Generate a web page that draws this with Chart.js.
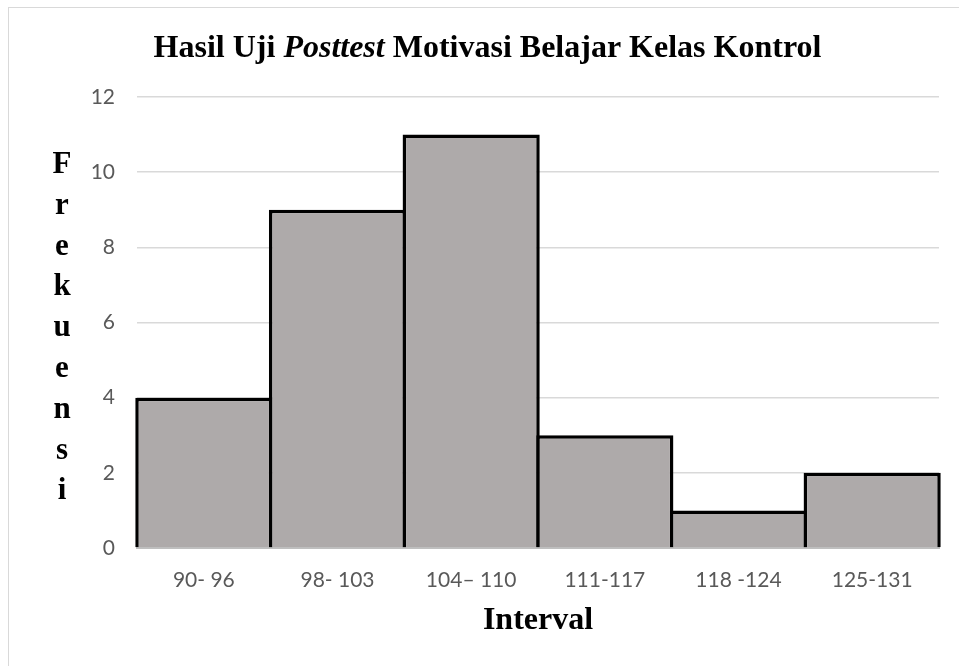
<!DOCTYPE html>
<html>
<head>
<meta charset="utf-8">
<script src="https://cdn.jsdelivr.net/npm/chart.js@4.4.1/dist/chart.umd.min.js"></script>
<style>
  html, body { margin: 0; padding: 0; background: #fff; }
  #wrap { position: relative; width: 959px; height: 666px; overflow: hidden; }
  #frame { position: absolute; left: 8px; top: 7px; width: 980px; height: 700px; border: 1.5px solid #d9d9d9; box-sizing: border-box; }
  canvas { position: absolute; left: 0; top: 0; }
</style>
</head>
<body>
<div id="wrap">
  <div id="frame"></div>
  <canvas id="chart" width="959" height="666"></canvas>
</div>
<script>
const intervals = ["90- 96", "98- 103", "104\u2013 110", "111-117", "118 -124", "125-131"]
const frekuensi = [4, 9, 11, 3, 1, 2]
const yTicks = [0, 2, 4, 6, 8, 10, 12]
const titleParts = [
  { text: "Hasil Uji ", italic: false },
  { text: "Posttest", italic: true },
  { text: " Motivasi Belajar Kelas Kontrol", italic: false }
]
const yTitle = "Frekuensi"
const xTitle = "Interval"

const serif = '"Liberation Serif", "Times New Roman", serif'

// title with an italic word, and the stacked y-axis letters
const textPlugin = {
  id: "extraText",
  afterDraw(chart) {
    const ctx = chart.ctx
    ctx.save()
    ctx.fillStyle = "#000"
    ctx.textBaseline = "alphabetic"
    ctx.textAlign = "left"
    const fontFor = (p) => (p.italic ? "italic bold " : "bold ") + "32px " + serif
    let total = 0
    titleParts.forEach((p) => { ctx.font = fontFor(p); total += ctx.measureText(p.text).width })
    let x = 487.5 - total / 2
    titleParts.forEach((p) => {
      ctx.font = fontFor(p)
      ctx.fillText(p.text, x, 57)
      x += ctx.measureText(p.text).width
    })

    ctx.font = "bold 31px " + serif
    ctx.textAlign = "center"
    yTitle.split("").forEach((ch, i) => {
      ctx.fillText(ch, 62, 173 + i * 40.8)
    })
    ctx.restore()
  }
}

new Chart(document.getElementById("chart"), {
  type: "bar",
  data: {
    labels: intervals,
    datasets: [{
      data: frekuensi,
      backgroundColor: "#aeaaaa",
      borderColor: "#000",
      borderWidth: 3.5,
      borderSkipped: "bottom",
      barPercentage: 1 + 3.5 / 133.7,
      categoryPercentage: 1,
      clip: false
    }]
  },
  options: {
    responsive: false,
    animation: false,
    events: [],
    layout: { padding: { top: 97, right: 20, left: 0, bottom: 0 } },
    plugins: {
      legend: { display: false },
      tooltip: { enabled: false }
    },
    scales: {
      x: {
        afterFit: (s) => { s.height = 118 },
        grid: { display: false, drawTicks: false },
        border: { display: true, color: "#bfbfbf", width: 2 },
        ticks: {
          padding: 20,
          color: "#595959",
          font: { family: "Lato", size: 21 },
          maxRotation: 0
        },
        title: {
          display: true,
          text: xTitle,
          color: "#000",
          font: { family: serif, size: 32, weight: "bold" },
          padding: { top: 0, bottom: 26 }
        }
      },
      y: {
        min: 0,
        max: 12,
        afterFit: (s) => { s.width = 137 },
        afterBuildTicks: (s) => { s.ticks = yTicks.map((v) => ({ value: v })) },
        grid: { color: "#d9d9d9", lineWidth: 1.5, drawTicks: false },
        border: { display: false },
        ticks: {
          padding: 22,
          color: "#595959",
          font: { family: "Lato", size: 21 }
        }
      }
    }
  },
  plugins: [textPlugin]
})
</script>
</body>
</html>
